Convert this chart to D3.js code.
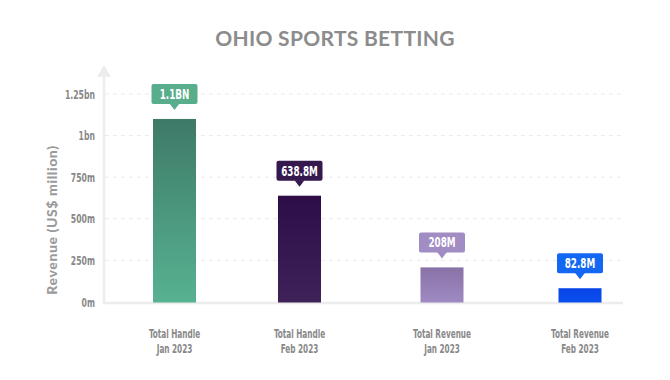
<!DOCTYPE html>
<html><head><meta charset="utf-8">
<script src="https://cdn.jsdelivr.net/npm/d3@7"></script>
<style>body{margin:0;background:#fff}</style>
</head><body>
<svg id="c" width="670" height="380"></svg>
<script>
const categoryLine1 = ["Total Handle","Total Handle","Total Revenue","Total Revenue"];
const categoryLine2 = ["Jan 2023","Feb 2023","Jan 2023","Feb 2023"];
const values = [1100, 638.8, 208, 82.8];
const valueLabels = ["1.1BN","638.8M","208M","82.8M"];
const tickValues = [0, 250, 500, 750, 1000, 1250];
const tickLabels = ["0m","250m","500m","750m","1bn","1.25bn"];
const barTop = ["#3e7a68","#2e0d48","#8872a6","#0a44e6"];
const barBottom = ["#57b291","#3e2258","#9f8ac3","#0a50ee"];
const boxColors = ["#58ad8c","#35184e","#a18cc4","#1467f2"];
const centers = [174.5, 299.5, 442, 580];

const svg = d3.select("#c");
const y = d3.scaleLinear().domain([0,1250]).range([302,94]);
// positions follow the (uneven) layout of the reference
const x = d3.scaleOrdinal().domain(d3.range(4)).range(centers);
const cx = i => x(i);
const bw = 43;
const cond = "'DejaVu Sans Condensed','DejaVu Sans',sans-serif";

svg.append("text").attr("x",335).attr("y",46).attr("text-anchor","middle")
  .attr("font-family","Lato, 'Open Sans', sans-serif").attr("font-weight","700")
  .attr("font-size",21).attr("fill","#8c8c8c").attr("letter-spacing",0.3).text("OHIO SPORTS BETTING");

const defs = svg.append("defs");
values.forEach((v,i)=>{
  const g = defs.append("linearGradient").attr("id","g"+i).attr("x1",0).attr("y1",0).attr("x2",0).attr("y2",1);
  g.append("stop").attr("offset","0%").attr("stop-color",barTop[i]);
  g.append("stop").attr("offset","100%").attr("stop-color",barBottom[i]);
});

// gridlines
svg.append("g").selectAll("line").data(tickValues.slice(1)).join("line")
  .attr("x1",105).attr("x2",623).attr("y1",d=>y(d)).attr("y2",d=>y(d))
  .attr("stroke","#e9e9e9").attr("stroke-width",1).attr("stroke-dasharray","4,4");

// y axis
const sx = 0.66;
const yAxis = d3.axisLeft(y).tickValues(tickValues).tickFormat((d,i)=>tickLabels[i]).tickSize(0).tickPadding(9);
const ya = svg.append("g").attr("transform","translate(104,0)").call(yAxis);
ya.select(".domain").remove();
ya.selectAll("text").attr("font-family",cond).attr("font-weight","700").attr("font-size",13)
  .attr("fill","#888").attr("transform",`scale(${sx},1)`).attr("x",-9/sx);

svg.append("line").attr("x1",104).attr("x2",104).attr("y1",304).attr("y2",76).attr("stroke","#ececec").attr("stroke-width",2.5);
svg.append("path").attr("d","M97,77 L104,65 L111,77 Z").attr("fill","#ececec");
svg.append("line").attr("x1",103).attr("x2",623).attr("y1",303).attr("y2",303).attr("stroke","#ececec").attr("stroke-width",2.5);

svg.append("text").attr("transform","translate(57,220) rotate(-90)").attr("text-anchor","middle")
  .attr("font-family","Lato, 'Open Sans', sans-serif").attr("font-weight","900").attr("font-size",14)
  .attr("fill","#9a9a9a").attr("letter-spacing",0.6).text("Revenue (US$ million)");

// bars
svg.append("g").selectAll("rect").data(values).join("rect")
  .attr("x",(d,i)=>cx(i)-bw/2).attr("width",bw)
  .attr("y",d=>y(d)).attr("height",d=>y(0)-y(d)+0.5)
  .attr("fill",(d,i)=>`url(#g${i})`);

// value callouts
const lab = svg.append("g").selectAll("g").data(values).join("g")
  .attr("transform",(d,i)=>`translate(${cx(i)},${y(d)-15})`);
lab.append("rect").attr("x",-23).attr("y",-20).attr("width",46).attr("height",20).attr("rx",2)
  .attr("fill",(d,i)=>boxColors[i]);
lab.append("path").attr("d","M-5,-0.5 L0,6 L5,-0.5 Z").attr("fill",(d,i)=>boxColors[i]);
lab.append("text").attr("y",-5).attr("transform","scale(0.7,1)").attr("text-anchor","middle").attr("font-family",cond)
  .attr("font-weight","700").attr("font-size",14).attr("fill","#fff").text((d,i)=>valueLabels[i]);

// category labels (two separate lines)
const catG = svg.append("g").selectAll("g").data(categoryLine1).join("g")
  .attr("transform",(d,i)=>`translate(${cx(i)},0) scale(0.66,1)`);
catG.append("text").attr("x",0).attr("y",338).attr("text-anchor","middle").attr("font-family",cond)
  .attr("font-weight","700").attr("font-size",12.3).attr("fill","#888").text(d=>d);
catG.append("text").attr("x",0).attr("y",353.5).attr("text-anchor","middle").attr("font-family",cond)
  .attr("font-weight","700").attr("font-size",12.3).attr("fill","#888").text((d,i)=>categoryLine2[i]);
</script>
</body></html>
